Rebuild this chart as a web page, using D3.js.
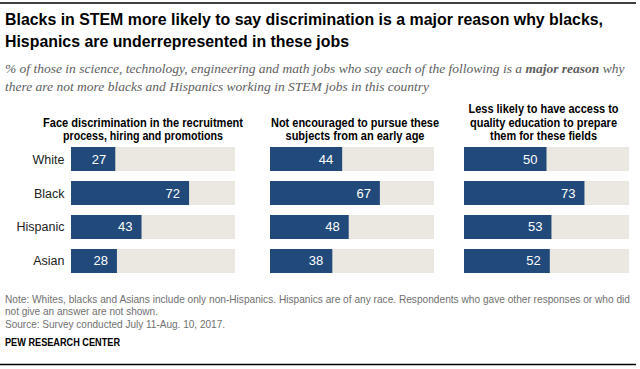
<!DOCTYPE html>
<html><head><meta charset="utf-8">
<script src="https://cdn.jsdelivr.net/npm/d3@7"></script>
<style>body{margin:0;background:#fff;} svg{display:block;}</style>
</head><body>
<svg id="c" width="640" height="369"></svg>
<script>
const categories = ["White","Black","Hispanic","Asian"];
const panelTitles = [
  ["Face discrimination in the recruitment","process, hiring and promotions"],
  ["Not encouraged to pursue these","subjects from an early age"],
  ["Less likely to have access to","quality education to prepare","them for these fields"]
];
const discrimination = [27,72,43,28];
const notEncouraged = [44,67,48,38];
const lessAccess = [50,73,53,52];
const seriesValues = [discrimination, notEncouraged, lessAccess];

const svg = d3.select("#c");
const blue = "#214a7b", bg = "#ebe8e1";

svg.append("line").attr("x1",0).attr("x2",636).attr("y1",3).attr("y2",3).attr("stroke","#000").attr("stroke-width",1.5);
svg.append("line").attr("x1",0).attr("x2",636).attr("y1",364.5).attr("y2",364.5).attr("stroke","#000").attr("stroke-width",1.5);

const sans = "'Liberation Sans',Arial,sans-serif";
function fitText(sel, w){ return sel.attr("textLength",w).attr("lengthAdjust","spacingAndGlyphs"); }

fitText(svg.append("text").attr("x",5).attr("y",24.5).attr("font-family",sans).attr("font-weight","bold").attr("font-size",16.5).attr("fill","#000")
  .text("Blacks in STEM more likely to say discrimination is a major reason  why blacks,"),598);
fitText(svg.append("text").attr("x",5).attr("y",47).attr("font-family",sans).attr("font-weight","bold").attr("font-size",16.5).attr("fill","#000")
  .text("Hispanics are underrepresented  in these jobs"),344);

const subF = "'Liberation Serif',serif";
const s1 = svg.append("text").attr("x",5).attr("y",73).attr("font-family",subF).attr("font-style","italic").attr("font-size",13.5).attr("fill","#5e5e5e");
s1.append("tspan").text("% of those in science, technology, engineering and math jobs who say each of the following is a ");
s1.append("tspan").attr("font-weight","bold").text("major reason");
s1.append("tspan").text(" why");
svg.append("text").attr("x",5).attr("y",91).attr("font-family",subF).attr("font-style","italic").attr("font-size",13.5).attr("fill","#5e5e5e")
  .text("there are not more blacks and Hispanics working in STEM jobs in this country");

const panels = [{x0:71,x1:235,tc:143,tw:[200,160]},{x0:270,x1:434,tc:355,tw:[168,139]},{x0:464,x1:629,tc:543.5,tw:[150,147,107]}];
const y = d3.scaleBand().domain(categories).range([136.8,283.2]).paddingInner(0.294).paddingOuter(0.3);

categories.forEach(c=>{
  svg.append("text").attr("x",64.5).attr("y",y(c)+y.bandwidth()/2+4.5).attr("text-anchor","end")
    .attr("font-family",sans).attr("font-size",12.5).attr("fill","#222").text(c);
});

panels.forEach((p,i)=>{
  const x = d3.scaleLinear().domain([0,100]).range([p.x0,p.x1]);
  const g = svg.append("g");
  const lines = panelTitles[i];
  const lastY = 140;
  lines.forEach((t,j)=>{
    fitText(g.append("text").attr("x",p.tc).attr("y",lastY - (lines.length-1-j)*13.3).attr("text-anchor","middle")
      .attr("font-family",sans).attr("font-weight","bold").attr("font-size",12).attr("fill","#000").text(t), p.tw[j]);
  });
  const vals = seriesValues[i];
  categories.forEach((c,k)=>{
    g.append("rect").attr("x",x(0)).attr("y",y(c)).attr("width",x(100)-x(0)).attr("height",y.bandwidth()).attr("fill",bg);
    g.append("rect").attr("x",x(0)).attr("y",y(c)).attr("width",x(vals[k])-x(0)).attr("height",y.bandwidth()).attr("fill",blue);
    g.append("text").attr("x",x(vals[k])-9).attr("y",y(c)+y.bandwidth()/2+4.5).attr("text-anchor","end")
      .attr("font-family",sans).attr("font-size",13).attr("fill","#fff").text(vals[k]);
  });
});

const notes = ["Note: Whites, blacks and Asians include only non-Hispanics. Hispanics are of any race. Respondents who gave other responses or who did",
"not give an answer are not shown.","Source: Survey conducted July 11-Aug. 10, 2017."];
const noteW = [625,153,220];
notes.forEach((t,i)=>fitText(svg.append("text").attr("x",5).attr("y",303+i*12.3).attr("font-family",sans).attr("font-size",10.2).attr("fill","#707070").text(t),noteW[i]));
fitText(svg.append("text").attr("x",5).attr("y",345.5).attr("font-family",sans).attr("font-weight","bold").attr("font-size",10).attr("fill","#000").text("PEW RESEARCH CENTER"),115);
</script>
</body></html>
